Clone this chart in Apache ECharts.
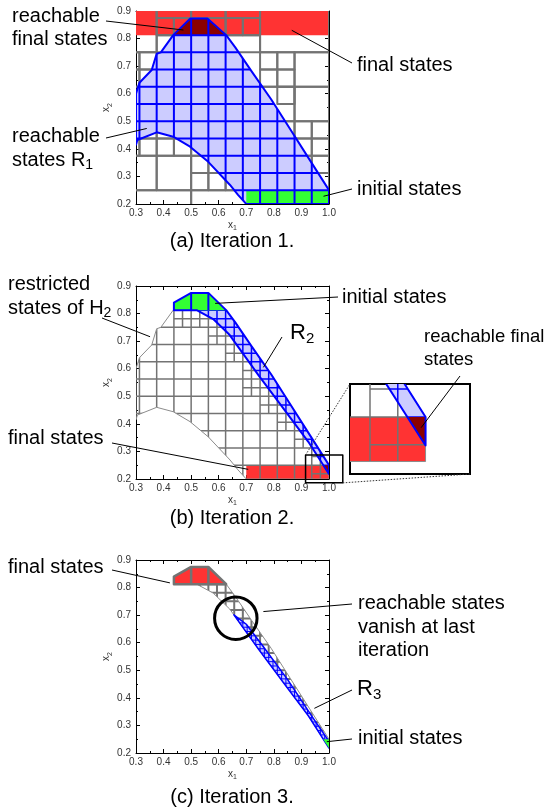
<!DOCTYPE html>
<html>
<head>
<meta charset="utf-8">
<title>iterations</title>
<script src="https://cdn.jsdelivr.net/npm/echarts@6.0.0/dist/echarts.min.js"></script>
<style>
  html, body { margin: 0; padding: 0; background: #fff; }
  #main { width: 544px; height: 811px; }
</style>
</head>
<body>
<div id="main"></div>
<script>
// ---- (a) Iteration 1 ----
var finalRect1 = [0.3, 0.8125, 1.0, 0.9];
var initRect1 = [0.7, 0.2, 1.0, 0.25];
var r1Poly = [[0.3, 0.415], [0.305, 0.432], [0.375, 0.46], [0.435, 0.444], [0.496, 0.408], [0.562, 0.353],
  [0.641, 0.269], [0.67, 0.233], [0.7, 0.2], [1.0, 0.2], [1.0, 0.25], [0.93, 0.36], [0.86, 0.47], [0.79, 0.58],
  [0.72, 0.68], [0.66, 0.768], [0.627, 0.8125], [0.559, 0.873], [0.497, 0.873], [0.435, 0.8125], [0.39, 0.75],
  [0.375, 0.745], [0.357, 0.686], [0.3125, 0.64], [0.3, 0.6]];
var r1FinalPoly = [[0.435, 0.8125], [0.497, 0.873], [0.559, 0.873], [0.627, 0.8125]];
// 网格线 1/16
var grid16 = [0.25, 0.3125, 0.375, 0.4375, 0.5, 0.5625, 0.625, 0.6875, 0.75, 0.8125, 0.875, 0.9375];
// 灰色格子 [x0, y0, x1, y1]
var cells1 = [
  [0.25, 0.75, 0.375, 1.0], [0.375, 0.875, 0.5, 1.0], [0.5, 0.875, 0.625, 1.0], [0.625, 0.875, 0.75, 1.0], [0.75, 0.75, 1.0, 1.0],
  [0.375, 0.8125, 0.4375, 0.875], [0.4375, 0.8125, 0.5, 0.875], [0.5, 0.8125, 0.5625, 0.875], [0.5625, 0.8125, 0.625, 0.875],
  [0.625, 0.8125, 0.6875, 0.875], [0.6875, 0.8125, 0.75, 0.875],
  [0.375, 0.75, 0.5, 0.8125], [0.5, 0.75, 0.625, 0.8125], [0.625, 0.75, 0.75, 0.8125],
  [0.25, 0.6875, 0.3125, 0.75], [0.3125, 0.6875, 0.375, 0.75], [0.25, 0.625, 0.3125, 0.6875], [0.3125, 0.625, 0.375, 0.6875],
  [0.25, 0.5625, 0.3125, 0.625], [0.3125, 0.5625, 0.375, 0.625], [0.25, 0.5, 0.3125, 0.5625], [0.3125, 0.5, 0.375, 0.5625],
  [0.25, 0.4375, 0.3125, 0.5], [0.3125, 0.4375, 0.375, 0.5], [0.25, 0.375, 0.3125, 0.4375], [0.3125, 0.375, 0.375, 0.4375],
  [0.375, 0.4375, 0.4375, 0.5], [0.4375, 0.4375, 0.5, 0.5], [0.375, 0.375, 0.4375, 0.4375], [0.4375, 0.375, 0.5, 0.4375],
  [0.5, 0.375, 0.5625, 0.4375], [0.5625, 0.375, 0.625, 0.4375],
  [0.25, 0.25, 0.375, 0.375], [0.375, 0.25, 0.5, 0.375],
  [0.5, 0.3125, 0.5625, 0.375], [0.5625, 0.3125, 0.625, 0.375], [0.5, 0.25, 0.5625, 0.3125], [0.5625, 0.25, 0.625, 0.3125],
  [0.625, 0.25, 0.75, 0.375], [0.25, 0.125, 0.5, 0.25], [0.5, 0.125, 0.75, 0.25],
  [0.75, 0.6875, 0.8125, 0.75], [0.8125, 0.6875, 0.875, 0.75], [0.75, 0.625, 0.8125, 0.6875], [0.8125, 0.625, 0.875, 0.6875],
  [0.875, 0.625, 1.0, 0.75], [0.75, 0.5, 0.875, 0.625], [0.8125, 0.5625, 0.875, 0.625], [0.875, 0.5, 1.0, 0.625],
  [0.75, 0.375, 0.875, 0.5], [0.875, 0.4375, 0.9375, 0.5], [0.9375, 0.4375, 1.0, 0.5], [0.875, 0.375, 0.9375, 0.4375],
  [0.9375, 0.375, 1.0, 0.4375], [0.75, 0.25, 0.875, 0.375], [0.875, 0.3125, 0.9375, 0.375], [0.9375, 0.3125, 1.0, 0.375],
  [0.875, 0.25, 0.9375, 0.3125], [0.9375, 0.25, 1.0, 0.3125], [0.75, 0.125, 1.0, 0.25]
];

// ---- (b) Iteration 2 ----
var finalRect2 = [0.7, 0.2, 1.0, 0.25];
var init2Poly = [[0.4375, 0.8125], [0.4375, 0.84], [0.5, 0.875], [0.5625, 0.875], [0.627, 0.8125]];
var r2Poly = [[0.4375, 0.8125], [0.4375, 0.84], [0.5, 0.875], [0.5625, 0.875], [0.627, 0.8125], [0.66, 0.768],
  [0.72, 0.68], [0.79, 0.58], [0.86, 0.47], [0.93, 0.36], [1.0, 0.25], [1.0, 0.218], [0.925, 0.335], [0.835, 0.455],
  [0.744, 0.577], [0.64, 0.722], [0.58, 0.78], [0.52, 0.8125]];
var r2FinalPoly = [[0.979, 0.25], [1.0, 0.25], [1.0, 0.218]];
var grid32 = [0.21875, 0.25, 0.28125, 0.3125, 0.34375, 0.375, 0.40625, 0.4375, 0.46875, 0.5, 0.53125, 0.5625,
  0.59375, 0.625, 0.65625, 0.6875, 0.71875, 0.75, 0.78125, 0.8125, 0.84375, 0.875, 0.90625, 0.9375, 0.96875];
// 细分的格子
var split2 = [
  [0.4375, 0.75, 0.5, 0.8125], [0.5, 0.75, 0.5625, 0.8125], [0.5625, 0.75, 0.625, 0.8125], [0.625, 0.75, 0.6875, 0.8125],
  [0.5625, 0.6875, 0.625, 0.75], [0.625, 0.6875, 0.6875, 0.75], [0.625, 0.625, 0.6875, 0.6875], [0.6875, 0.625, 0.75, 0.6875],
  [0.6875, 0.5625, 0.75, 0.625], [0.75, 0.5625, 0.8125, 0.625], [0.6875, 0.5, 0.75, 0.5625], [0.75, 0.5, 0.8125, 0.5625],
  [0.75, 0.4375, 0.8125, 0.5], [0.8125, 0.4375, 0.875, 0.5], [0.8125, 0.375, 0.875, 0.4375], [0.875, 0.375, 0.9375, 0.4375],
  [0.875, 0.3125, 0.9375, 0.375], [0.9375, 0.3125, 1.0, 0.375], [0.9375, 0.25, 1.0, 0.3125], [0.9375, 0.1875, 1.0, 0.25]
];
var zoomBox = [0.915, 0.186, 1.05, 0.287];

// ---- (c) Iteration 3 ----
var final3Poly = [[0.4375, 0.8125], [0.4375, 0.84], [0.5, 0.875], [0.5625, 0.875], [0.627, 0.8125]];
var r3Poly = [[0.655, 0.701], [0.70, 0.667], [0.76, 0.588], [0.85, 0.466], [0.94, 0.33], [1.0, 0.242], [1.0, 0.218],
  [0.925, 0.335], [0.835, 0.455], [0.744, 0.577]];
var init3Poly = [[0.979, 0.25], [1.0, 0.25], [1.0, 0.218]];
var grid64 = [0.21875, 0.234375, 0.25, 0.265625, 0.28125, 0.296875, 0.3125, 0.328125, 0.34375, 0.359375, 0.375,
  0.390625, 0.40625, 0.421875, 0.4375, 0.453125, 0.46875, 0.484375, 0.5, 0.515625, 0.53125, 0.546875, 0.5625,
  0.578125, 0.59375, 0.609375, 0.625, 0.640625, 0.65625, 0.671875, 0.6875, 0.703125, 0.71875, 0.734375, 0.75,
  0.765625, 0.78125, 0.796875, 0.8125, 0.828125, 0.84375, 0.859375, 0.875, 0.890625, 0.90625, 0.921875, 0.9375,
  0.953125, 0.96875, 0.984375];
var circle3 = [0.662, 0.689, 0.077];

var FONT = '"Liberation Sans", Arial, sans-serif';
var RED = '#ff3333', DARK = '#8b0000', GREEN = '#33ff33', LIGHT = '#ccccff', BLUE = '#0000ff', GRAY = '#737373';

function pts(api, list) {
  return list.map(function (p) { return api.coord(p); });
}
function rectPts(r) {
  return [[r[0], r[1]], [r[2], r[1]], [r[2], r[3]], [r[0], r[3]]];
}
function bounds(list) {
  var xs = list.map(function (p) { return p[0]; });
  var ys = list.map(function (p) { return p[1]; });
  return [Math.min.apply(null, xs), Math.min.apply(null, ys), Math.max.apply(null, xs), Math.max.apply(null, ys)];
}
function lineEl(a, b, color, lw) {
  return { type: 'line', shape: { x1: a[0], y1: a[1], x2: b[0], y2: b[1] }, style: { stroke: color, lineWidth: lw } };
}
function shapeEl(api, list, fill, stroke, lw) {
  return {
    type: 'polygon', shape: { points: pts(api, list) },
    style: { fill: fill || 'none', stroke: stroke || 'none', lineWidth: lw || 0, lineJoin: 'round' }
  };
}
// 网格线，裁剪到多边形内
function hatch(api, xs, ys, clip, color, lw) {
  var b = bounds(clip), kids = [];
  xs.forEach(function (x) {
    if (x > b[0] && x < b[2]) kids.push(lineEl(api.coord([x, b[1]]), api.coord([x, b[3]]), color, lw));
  });
  ys.forEach(function (y) {
    if (y > b[1] && y < b[3]) kids.push(lineEl(api.coord([b[0], y]), api.coord([b[2], y]), color, lw));
  });
  return { type: 'group', clipPath: { type: 'polygon', shape: { points: pts(api, clip) } }, children: kids };
}
function cellsEl(api, rects, color, lw) {
  return {
    type: 'group',
    children: rects.map(function (r) { return shapeEl(api, rectPts(r), null, color, lw); })
  };
}
function splitEl(api, rects, clip, color, lw) {
  var kids = [];
  rects.forEach(function (r) {
    var mx = (r[0] + r[2]) / 2, my = (r[1] + r[3]) / 2;
    kids.push(lineEl(api.coord([mx, r[1]]), api.coord([mx, r[3]]), color, lw));
    kids.push(lineEl(api.coord([r[0], my]), api.coord([r[2], my]), color, lw));
  });
  return { type: 'group', clipPath: { type: 'polygon', shape: { points: pts(api, clip) } }, children: kids };
}

function layers1(api) {
  return [
    shapeEl(api, rectPts(finalRect1), RED),
    cellsEl(api, cells1, GRAY, 2),
    shapeEl(api, r1Poly, LIGHT),
    shapeEl(api, r1FinalPoly, DARK),
    shapeEl(api, rectPts(initRect1), GREEN),
    hatch(api, grid16, grid16, r1Poly, BLUE, 2),
    shapeEl(api, r1Poly, null, BLUE, 2)
  ];
}
function layers2(api) {
  return [
    shapeEl(api, rectPts(finalRect2), RED),
    hatch(api, grid16, grid16, r1Poly, GRAY, 1.5),
    splitEl(api, split2, r1Poly, GRAY, 1.5),
    shapeEl(api, r1Poly, null, '#8c8c8c', 1),
    shapeEl(api, r2Poly, LIGHT),
    hatch(api, grid32, grid32, r2Poly, BLUE, 1.5),
    shapeEl(api, init2Poly, GREEN),
    hatch(api, grid16, grid16, init2Poly, BLUE, 2),
    shapeEl(api, r2FinalPoly, DARK),
    shapeEl(api, r2Poly, null, BLUE, 2)
  ];
}
function layers3(api) {
  var c = api.coord([circle3[0], circle3[1]]);
  return [
    hatch(api, grid32, grid32, r2Poly, GRAY, 2),
    shapeEl(api, r2Poly, null, '#8c8c8c', 1),
    shapeEl(api, final3Poly, RED),
    hatch(api, grid16, grid16, final3Poly, GRAY, 2.5),
    shapeEl(api, final3Poly, null, GRAY, 2.5),
    shapeEl(api, r3Poly, LIGHT),
    hatch(api, grid64, grid64, r3Poly, BLUE, 1),
    shapeEl(api, r3Poly, null, BLUE, 1.5),
    shapeEl(api, init3Poly, GREEN),
    { type: 'circle', shape: { cx: c[0], cy: c[1], r: api.size([circle3[2], 0])[0] },
      style: { fill: 'none', stroke: '#000', lineWidth: 3 } }
  ];
}
function boxLayer(api) {
  return [shapeEl(api, rectPts(zoomBox), null, '#000', 1.5)];
}

function custom(ax, build, clip, at) {
  return {
    type: 'custom', xAxisIndex: ax, yAxisIndex: ax, clip: clip, silent: true, animation: false,
    data: [at || [0.5, 0.5]],
    renderItem: function (params, api) { return { type: 'group', children: build(api) }; }
  };
}

var nameRich = {
  a: { fontSize: 10, fontFamily: FONT, color: '#333', lineHeight: 14 },
  b: { fontSize: 7, fontFamily: FONT, color: '#333', lineHeight: 8, verticalAlign: 'bottom' }
};
function xAx(g, top) {
  return {
    gridIndex: g, type: 'value', position: top ? 'top' : 'bottom', min: 0.3, max: 1.0, interval: 0.1,
    axisLine: { onZero: false, lineStyle: { color: '#000', width: 1 } },
    axisTick: { inside: true, length: 4, lineStyle: { color: '#000' } },
    minorTick: { show: true, splitNumber: 2, length: 2, lineStyle: { color: '#000' } },
    splitLine: { show: false },
    axisLabel: { show: !top, fontSize: 10, fontFamily: FONT, color: '#333', margin: 4,
      formatter: function (v) { return v.toFixed(1); } },
    name: top ? '' : '{a|x}{b|1}', nameLocation: 'middle', nameGap: 14,
    nameTextStyle: { rich: nameRich }
  };
}
function yAx(g, right) {
  return {
    gridIndex: g, type: 'value', position: right ? 'right' : 'left', min: 0.2, max: 0.9, interval: 0.1,
    axisLine: { onZero: false, lineStyle: { color: '#000', width: 1 } },
    axisTick: { inside: true, length: 4, lineStyle: { color: '#000' } },
    minorTick: { show: true, splitNumber: 2, length: 2, lineStyle: { color: '#000' } },
    splitLine: { show: false },
    axisLabel: { show: !right, fontSize: 10, fontFamily: FONT, color: '#333', margin: 5,
      formatter: function (v) { return v.toFixed(1); } },
    name: right ? '' : '{a|x}{b|2}', nameLocation: 'middle', nameGap: 20, nameRotate: 90,
    nameTextStyle: { rich: nameRich }
  };
}

var tops = [11, 286, 560];
var grids = tops.map(function (t) {
  return { left: 136, top: t, width: 193, height: 193, containLabel: false, outerBoundsMode: 'none' };
});
grids.push({ left: 350, top: 384, width: 120, height: 90, show: true, backgroundColor: '#fff',
  borderColor: '#000', borderWidth: 2, containLabel: false, outerBoundsMode: 'none' });

var xAxes = [], yAxes = [];
[0, 1, 2].forEach(function (g) {
  xAxes.push(xAx(g, false), xAx(g, true));
  yAxes.push(yAx(g, false), yAx(g, true));
});
xAxes.push({ gridIndex: 3, type: 'value', min: zoomBox[0], max: zoomBox[2], show: false, splitLine: { show: false } });
yAxes.push({ gridIndex: 3, type: 'value', min: zoomBox[1], max: zoomBox[3], show: false, splitLine: { show: false } });

var chart = echarts.init(document.getElementById('main'));
chart.setOption({
  animation: false,
  backgroundColor: '#fff',
  grid: grids,
  xAxis: xAxes,
  yAxis: yAxes,
  series: [
    custom(0, layers1, true),
    custom(2, layers2, true),
    custom(2, boxLayer, false),
    custom(4, layers3, true),
    custom(6, layers2, true, [0.95, 0.25])
  ]
});

// 标注
var notes = [
  { text: 'reachable\nfinal states', left: 12, top: 4.5, from: [106, 21], ax: 0, to: [0.472, 0.831] },
  { text: 'final states', left: 357, top: 53.5, from: [352, 63], ax: 0, to: [0.865, 0.83] },
  { text: 'reachable\nstates R{s|1}', left: 12, top: 125, from: [106, 138], ax: 0, to: [0.339, 0.474] },
  { text: 'initial states', left: 357, top: 177.5, from: [352, 189], ax: 0, to: [0.98, 0.228] },
  { text: 'restricted\nstates of H{s|2}', left: 8, top: 273, from: [102, 318], ax: 2, to: [0.351, 0.716] },
  { text: 'initial states', left: 342, top: 285.5, from: [338, 297], ax: 2, to: [0.587, 0.837] },
  { text: 'R{s|2}', left: 290, top: 320, big: true, from: [282, 337], ax: 2, to: [0.762, 0.605] },
  { text: 'final states', left: 8, top: 426.5, from: [112, 443], ax: 2, to: [0.707, 0.235] },
  { text: 'reachable final\nstates', left: 424, top: 325, size: 18.5, from: [460, 376], ax: 6, to: [0.995, 0.238] },
  { text: 'final states', left: 8, top: 555.5, from: [112, 570], ax: 4, to: [0.423, 0.817] },
  { text: 'reachable states\nvanish at last\niteration', left: 358, top: 592, from: [352, 604], ax: 4, to: [0.762, 0.713] },
  { text: 'R{s|3}', left: 357, top: 676, big: true, from: [352, 690], ax: 4, to: [0.947, 0.362] },
  { text: 'initial states', left: 358, top: 727, from: [352, 739], ax: 4, to: [0.992, 0.241] }
];
var captions = [['(a) Iteration 1.', 241], ['(b) Iteration 2.', 518], ['(c) Iteration 3.', 797]];

function px(ax, v) {
  return chart.convertToPixel({ xAxisIndex: ax, yAxisIndex: ax }, v);
}

var graphic = [];
notes.forEach(function (n) {
  var t = px(n.ax, n.to);
  var size = n.size || (n.big ? 22 : 20);
  graphic.push({
    type: 'line', z: 100, silent: true,
    shape: { x1: n.from[0], y1: n.from[1], x2: t[0], y2: t[1] },
    style: { stroke: '#000', lineWidth: 1 }
  });
  graphic.push({
    type: 'text', z: 100, silent: true, x: n.left, y: n.top,
    style: {
      text: n.text, fill: '#000', font: size + 'px ' + FONT, lineHeight: n.big ? 26 : 23.5,
      rich: { s: { font: (n.big ? 15 : 14) + 'px ' + FONT, fill: '#000', lineHeight: 10, verticalAlign: 'bottom' } }
    }
  });
});
captions.forEach(function (c) {
  graphic.push({
    type: 'text', z: 100, silent: true, x: 232, y: c[1],
    style: { text: c[0], fill: '#000', font: '20px ' + FONT, align: 'center', verticalAlign: 'middle',
      textAlign: 'center', textVerticalAlign: 'middle' }
  });
});
// 放大框的连线
[[zoomBox[0], zoomBox[3]], [zoomBox[2], zoomBox[1]]].forEach(function (p) {
  var a = px(2, p), b = px(6, p);
  graphic.push({
    type: 'line', z: 90, silent: true,
    shape: { x1: a[0], y1: a[1], x2: b[0], y2: b[1] },
    style: { stroke: '#333', lineWidth: 1, lineDash: [1.5, 1.5] }
  });
});
chart.setOption({ graphic: graphic });
</script>
</body>
</html>
